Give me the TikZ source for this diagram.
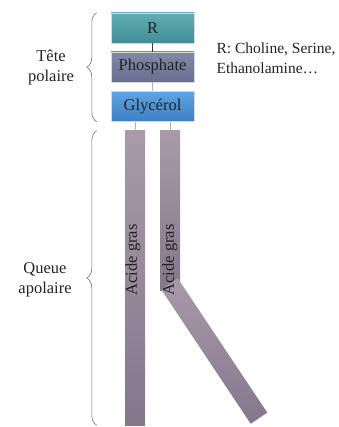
\documentclass[tikz,border=0pt]{standalone}
\usepackage{fontspec}
\setmainfont{Liberation Serif}
\usetikzlibrary{decorations.pathreplacing}

\definecolor{rtop}{HTML}{62ADB4}
\definecolor{rbot}{HTML}{3F8F97}
\definecolor{ptop}{HTML}{8189A8}
\definecolor{pbot}{HTML}{656F8E}
\definecolor{gtop}{HTML}{5FA3E2}
\definecolor{gbot}{HTML}{3E80C3}
\definecolor{ttop}{HTML}{A99AAA}
\definecolor{tbot}{HTML}{85778B}
\definecolor{ink}{HTML}{222222}

\begin{document}
\begin{tikzpicture}[x=1pt, y=-1pt,
  headbox/.style={rectangle, draw=white!85!black, line width=0.4pt,
    minimum width=83pt, minimum height=30pt, inner sep=0pt,
    font=\fontsize{16.5}{19}\selectfont, text=ink},
  tail/.style={rectangle, shade, top color=ttop, bottom color=tbot,
    minimum width=20pt, inner sep=0pt},
  link/.style={line width=0.8pt, gray!60},
  brace/.style={decorate, decoration={brace, amplitude=10pt},
    gray!90!black, line width=0.6pt},
  label/.style={font=\fontsize{16.5}{20}\selectfont, text=ink, align=center},
  chain/.style={font=\fontsize{16.5}{19}\selectfont, text=ink, rotate=90}
]
  \useasboundingbox (0,0) rectangle (338,427);

  % Polar head
  \node[headbox, shade, top color=rtop, bottom color=rbot] (r) at (152.5,28) {R};
  \node[headbox, shade, top color=ptop, bottom color=pbot] (phos) at (152.5,67) {Phosphate};
  \node[headbox, shade, top color=gtop, bottom color=gbot] (glyc) at (152.5,106.5) {Glycérol};

  \draw[line width=0.8pt, black!80] (r) -- (phos);
  \draw[link] (phos) -- (glyc);

  % Fatty acid tails
  \node[tail, minimum height=294pt] (t1) at (135,278) {};
  \node[tail, minimum height=159pt] (t2) at (170,210.5) {};
  \node[tail, minimum height=161.5pt, rotate=33.7] (t3) at (214.2,351) {};

  \draw[link] (t1.north |- glyc.south) -- (t1.north);
  \draw[link] (t2.north |- glyc.south) -- (t2.north);

  \node[chain] (c1) at (133,260) {Acide gras};
  \node[chain] (c2) at (170,260) {Acide gras};

  % Braces and labels
  \draw[brace] ([xshift=-14pt]glyc.south west) -- ([xshift=-14pt]r.north west);
  \draw[brace] ([xshift=-28pt]t1.south west) -- ([xshift=-28pt]t1.north west);

  \node[label] (tete) at (51,68) {Tête\\polaire};
  \node[label] (queue) at (45,280) {Queue\\apolaire};
  \node[label, align=left, anchor=west, font=\fontsize{15.5}{20}\selectfont]
    (rlist) at (213,58) {R: Choline, Serine,\\Ethanolamine…};
\end{tikzpicture}
\end{document}
